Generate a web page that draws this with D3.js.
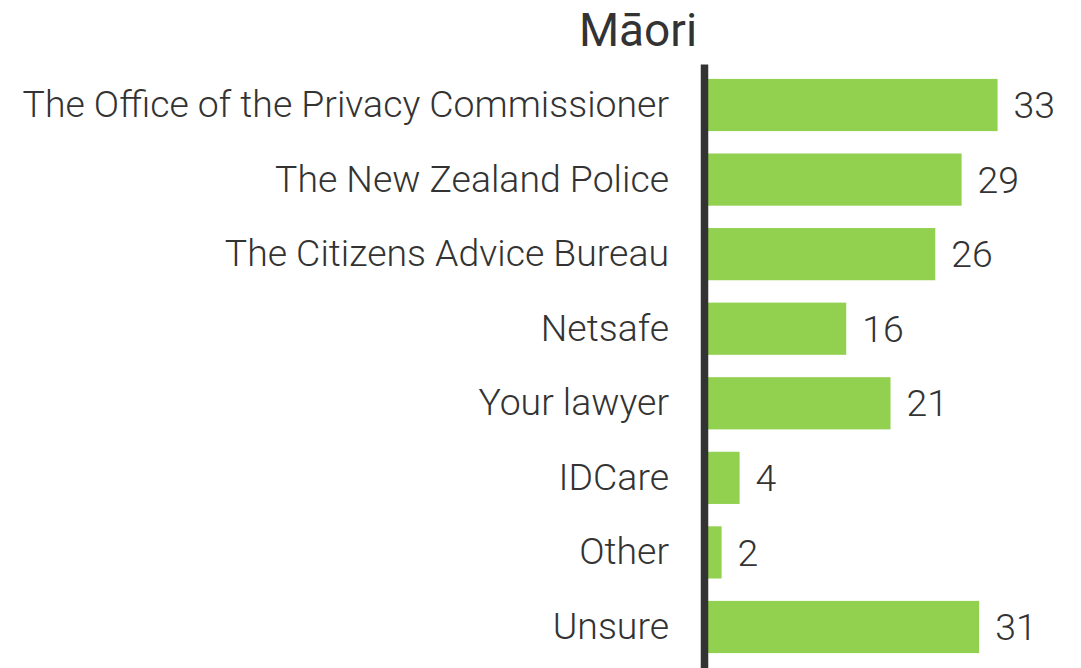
<!DOCTYPE html>
<html><head><meta charset="utf-8">
<script src="https://cdn.jsdelivr.net/npm/d3@7"></script>
<style>body{margin:0;background:#fff;}svg{display:block;}</style>
</head><body><svg id="c" width="1081" height="668"></svg>
<script>
const title = "Māori";
const categories = ["The Office of the Privacy Commissioner","The New Zealand Police","The Citizens Advice Bureau","Netsafe","Your lawyer","IDCare","Other","Unsure"];
const values = [33, 28.9, 25.9, 15.75, 20.8, 3.6, 1.55, 30.9];
const valueLabels = ["33","29","26","16","21","4","2","31"];

const svg = d3.select("#c");
const x0 = 708;
const x = d3.scaleLinear().domain([0, 40]).range([x0, x0 + 351]);
const y = d3.scaleBand().domain(categories).range([64, 668]).paddingInner(0.3).paddingOuter(0.2);
const font = "Roboto, sans-serif";
const textColor = "#333333";

svg.append("text").attr("x", 638).attr("y", 46).attr("text-anchor", "middle")
  .attr("font-family", font).attr("font-size", 46).attr("font-weight", 400)
  .attr("fill", textColor).text(title);

const data = categories.map((c, i) => ({c, v: values[i], l: valueLabels[i]}));

svg.selectAll("rect.bar").data(data).join("rect").attr("class", "bar")
  .attr("x", x(0)).attr("y", d => y(d.c)).attr("width", d => x(d.v) - x(0))
  .attr("height", y.bandwidth()).attr("fill", "#92d050");

svg.selectAll("text.val").data(data).join("text").attr("class", "val")
  .attr("x", d => x(d.v) + 16).attr("y", d => y(d.c) + y.bandwidth() / 2)
  .attr("dy", "0.35em").attr("font-family", font).attr("font-size", 37.4).attr("font-weight", 300)
  .attr("fill", textColor).text(d => d.l);

const yAxis = d3.axisLeft(y).tickSize(0).tickPadding(35);
const g = svg.append("g").attr("transform", `translate(${x0 - 4},0)`).call(yAxis);
g.select(".domain").attr("stroke", "#333333").attr("stroke-width", 7.5);
g.selectAll(".tick text").attr("font-family", font).attr("font-size", 37.4).attr("font-weight", 300)
  .attr("fill", textColor);
</script></body></html>
